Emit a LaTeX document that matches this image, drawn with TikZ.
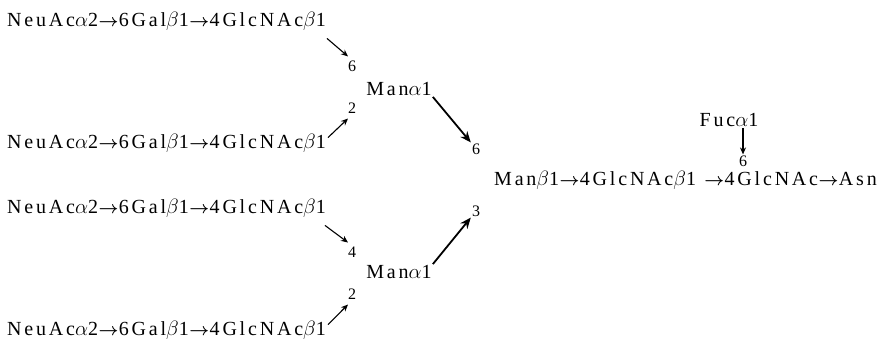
\documentclass[tikz,border=0pt]{standalone}
\usepackage{fontspec}
\usepackage{bm}
\setmainfont{Liberation Serif}
\newfontfamily\sugarfont{Liberation Serif}[LetterSpace=14]
\newcommand\gly{\kern0.5pt{\fontsize{16}{16}\selectfont$\bm{\rightarrow}$}\kern0.5pt}
\usepackage{tikz}
\usetikzlibrary{positioning,arrows.meta,calc}

\begin{document}
\begin{tikzpicture}[x=1pt,y=-1pt,
  chain/.style={inner sep=1pt, font=\sugarfont\fontsize{20}{22}\selectfont},
  num/.style={inner sep=1pt, font=\fontsize{16}{17}\selectfont},
  link/.style={-{Stealth[length=7pt,width=6pt]}, line width=1.1pt},
  bond/.style={-{Stealth[length=11pt,width=9pt]}, line width=1.8pt}]
\useasboundingbox (0,0) rectangle (879,341);
% antennae
\node[chain, anchor=west] (r1) at (6,21) {NeuAc$\alpha$2\gly6Gal$\beta$1\gly4GlcNAc$\beta$1};
\node[chain, anchor=west] (r2) at (6,143) {NeuAc$\alpha$2\gly6Gal$\beta$1\gly4GlcNAc$\beta$1};
\node[chain, anchor=west] (r3) at (6,208) {NeuAc$\alpha$2\gly6Gal$\beta$1\gly4GlcNAc$\beta$1};
\node[chain, anchor=west] (r4) at (6,330) {NeuAc$\alpha$2\gly6Gal$\beta$1\gly4GlcNAc$\beta$1};
% branch mannoses
\node[num] (n6a) at (352,66) {6};
\node[num] (n2a) at (352,108) {2};
\node[chain] (mana) at (399,89) {Man$\alpha$1};
\node[num] (n4b) at (352,252) {4};
\node[num] (n2b) at (352,294) {2};
\node[chain] (manb) at (399,272) {Man$\alpha$1};
% core
\node[num] (n6c) at (476,149) {6};
\node[num] (n3c) at (476,211) {3};
\node[chain, anchor=west] (core) at (493,180) {Man$\beta$1\gly4GlcNAc$\beta$1 \gly4GlcNAc\gly Asn};
\node[chain] (fuc) at (729,120) {Fuc$\alpha$1};
\node[num] (n6f) at (743,161) {6};
\draw[link] ($(r1.south east)+(0,7)$) -- ($(n6a.north)+(-4,-3)$);
\draw[link] ($(r2.north east)+(1,5)$) -- ($(n2a.south)+(-4,4)$);
\draw[link] ($(r3.south east)+(-2,7)$) -- ($(n4b.north)+(-4,-3)$);
\draw[link] ($(r4.north east)+(1,5)$) -- ($(n2b.south)+(-4,4)$);
\draw[bond] (mana.south east) -- (n6c.north west);
\draw[bond] (manb.north east) -- (n3c.south west);
\draw[link] (fuc.south -| n6f) -- (n6f.north);
\end{tikzpicture}
\end{document}
